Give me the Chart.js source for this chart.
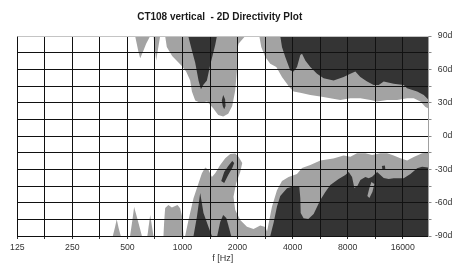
<!DOCTYPE html>
<html><head><meta charset="utf-8">
<script src="https://cdn.jsdelivr.net/npm/chart.js@4/dist/chart.umd.min.js"></script>
<style>html,body{margin:0;padding:0;background:#fff;}canvas{display:block;}</style>
</head><body>
<canvas id="c" width="452" height="266"></canvas>
<script>
// ---- texts and axis ticks ----
const chartTitle = 'CT108 vertical  - 2D Directivity Plot';
const xTitle = 'f [Hz]';
const gridFreqs = [125, 176.8, 250, 353.6, 500, 707.1, 1000, 1414.2, 2000, 2828.4, 4000, 5656.9, 8000, 11313.7, 16000];
const freqLabels = [125, 250, 500, 1000, 2000, 4000, 8000, 16000];
const angleTicks = [90, 75, 60, 45, 30, 15, 0, -15, -30, -45, -60, -75, -90];
const angleLabels = [90, 60, 30, 0, -30, -60, -90];

// ---- contour regions, [frequency Hz, angle deg] ----
// light level (upper half)
const topSpikeA = [[551,90],[574,76],[587,70],[612,77],[633,83],[666,90]];
const topSpikeB = [[694,90],[718,68],[755,90]];
const topLightMid = [[804,90],[821,80],[878,72],[992,63],[1047,58],[1102,50],[1126,40],[1174,32],[1250,30],[1365,31],[1472,25],[1568,19],[1670,17.5],[1779,20],[1871,27],[1943,41],[1985,59],[1985,75],[2025,83],[2204,90]];
const topLightHigh = [[2630,90],[2697,80],[2836,71],[3020,65],[3258,62],[3500,53],[3837,44],[4050,40],[4408,39],[5000,37],[5673,35.5],[6432,34],[7296,32.5],[8276,34],[9388,34],[10652,32.5],[11592,31],[13144,32.5],[14912,32.5],[16912,34],[18379,34],[20000,31],[21304,26],[22000,25],[22000,90]];
// dark level (upper half)
const topDarkMid = [[1075,90],[1130,76],[1174,66],[1224,50],[1262,42],[1298,46],[1360,50],[1418,64],[1510,82],[1543,90]];
const topDarkBlob = [[1640,32],[1670,37],[1710,33],[1720,27],[1690,24],[1660,27]];
const topDarkHigh = [[3425,90],[3500,80],[3648,71],[3885,59],[4050,58],[4228,62],[4408,73],[4504,74],[4694,68],[5000,62],[5441,56],[5913,52],[6705,50],[7605,53],[8276,56],[8816,58],[9388,53],[10218,49],[11104,46],[11826,46],[12597,49],[14283,47],[16201,46],[16912,43],[19185,40],[20853,37],[22000,33],[22000,90]];
// light level (lower half)
const bottomSpike1 = [[416,-90],[428,-82],[437,-75],[448,-83],[460,-90]];
const bottomSpike2 = [[517,-90],[532,-76],[544,-64],[563,-72.6],[587,-84],[600,-90]];
const bottomSpike3 = [[643,-90],[666,-71],[694,-90]];
const bottomLightMesa = [[787,-90],[794,-77.4],[804,-64.8],[838,-62],[875,-64.4],[912,-63],[939,-62],[971,-65],[996,-72.6],[1013,-90]];
const bottomLightMain = [[1034,-90],[1079,-75.6],[1149,-56],[1224,-42.6],[1277,-33.6],[1332,-28.4],[1388,-30.6],[1449,-36.9],[1510,-33.6],[1608,-26],[1713,-20],[1824,-16.2],[1943,-15.8],[2025,-18.6],[2122,-24.3],[2069,-32.4],[1967,-42.3],[1901,-54.6],[1943,-66.6],[2069,-75.6],[2252,-81.6],[2446,-83.7],[2663,-80.6],[2836,-82],[2900,-86],[3085,-63.6],[3286,-48.8],[3500,-40.5],[3802,-36.9],[4228,-34.2],[4504,-28.8],[5000,-26],[5673,-22],[6680,-20.3],[7605,-17.6],[8276,-18.6],[9005,-15.6],[10000,-15.6],[10883,-17.1],[12081,-15.6],[13144,-15.6],[14283,-17.6],[15543,-20],[16912,-22],[18379,-19],[20436,-15.6],[22000,-15],[22000,-90]];
// dark level (lower half)
const bottomDarkA = [[1149,-90],[1199,-73],[1250,-51.3],[1303,-69.3],[1388,-82],[1449,-90]];
const bottomDarkB = [[1549,-90],[1608,-77.4],[1670,-71],[1736,-73.8],[1779,-80],[1847,-90]];
const bottomDarkStreak = [[1629,-40.5],[1691,-32.4],[1779,-27],[1871,-22.5],[1918,-24.3],[1871,-28.8],[1779,-35.1],[1691,-42.3]];
const bottomDarkHigh = [[3020,-90],[3150,-78],[3286,-63.5],[3425,-54],[3728,-47],[3970,-45.6],[4353,-45.6],[4408,-55.8],[4430,-69.3],[4595,-74],[4876,-74.7],[5213,-70.2],[5673,-57.6],[6040,-50.4],[6432,-44.1],[7141,-38.7],[7771,-35.1],[8101,-32.4],[8457,-36.9],[8706,-46.8],[9040,-45],[9388,-39.6],[10000,-36.9],[10425,-38.1],[10883,-36.6],[11592,-32.4],[12081,-35.1],[12597,-37.8],[13411,-38.7],[14283,-38.1],[16201,-38.1],[17632,-34.2],[19185,-29.1],[20436,-27.6],[22000,-28.4],[22000,-90]];
const bottomDarkSpeck = [[12313,-27],[12785,-26.6],[12850,-29.7],[12400,-30.6]];
// light sliver inside the dark area
const bottomLightSliver = [[10787,-41.4],[11200,-43.2],[10920,-50.4],[10519,-55.8],[10254,-54],[10519,-46.8]];

const LIGHT = '#a3a3a3';
const DARK = '#343434';
const FONT = '"Liberation Sans", Arial, sans-serif';

const region = (pairs, color, order) => ({
  data: pairs.map(([x, y]) => ({x, y})),
  showLine: true, fill: 'shape', backgroundColor: color,
  borderColor: 'rgba(0,0,0,0)', borderWidth: 0,
  pointRadius: 0, pointHoverRadius: 0, tension: 0, order
});

const datasets = [
  ...[topSpikeA, topSpikeB, topLightMid, topLightHigh, bottomSpike1, bottomSpike2, bottomSpike3, bottomLightMesa, bottomLightMain].map(r => region(r, LIGHT, 3)),
  ...[topDarkMid, topDarkBlob, topDarkHigh, bottomDarkA, bottomDarkB, bottomDarkStreak, bottomDarkHigh, bottomDarkSpeck].map(r => region(r, DARK, 2)),
  region(bottomLightSliver, LIGHT, 1)
];

const titlePlugin = {
  id: 'plotTitle',
  afterDraw(chart) {
    const ctx = chart.ctx;
    ctx.save();
    ctx.font = 'bold 10px ' + FONT;
    ctx.fillStyle = '#1a1a1a';
    ctx.textAlign = 'center';
    ctx.textBaseline = 'middle';
    ctx.fillText(chartTitle, 219.7, 17);
    ctx.restore();
  }
};

new Chart(document.getElementById('c'), {
  type: 'scatter',
  data: { datasets },
  plugins: [titlePlugin],
  options: {
    responsive: false, animation: false, devicePixelRatio: 1,
    layout: { padding: { top: 36, left: 17.3, right: -10, bottom: 0 } },
    plugins: { legend: { display: false }, tooltip: { enabled: false }, title: { display: false } },
    scales: {
      x: {
        type: 'logarithmic', position: 'bottom', min: 125, max: 22000,
        afterBuildTicks: s => { s.ticks = gridFreqs.map(v => ({ value: v })); },
        afterFit: s => { s.height = 30; },
        grid: { z: 1, color: '#111', tickColor: '#333', tickLength: 3, lineWidth: 1 },
        border: { z: 1, color: '#111', width: 1 },
        ticks: {
          autoSkip: false, maxRotation: 0, minRotation: 0, padding: 3.5, color: '#333',
          font: { family: FONT, size: 8.7 },
          callback: v => freqLabels.includes(v) ? String(v) : ''
        },
        title: { display: true, text: xTitle, color: '#333', font: { family: FONT, size: 9 }, padding: { top: 0, bottom: 2 } }
      },
      y: {
        type: 'linear', position: 'right', min: -90, max: 90,
        afterBuildTicks: s => { s.ticks = angleTicks.map(v => ({ value: v })); },
        afterFit: s => { s.width = 34; },
        grid: {
          z: 1, lineWidth: 1, tickLength: 3.5, tickColor: '#8a8a8a',
          color: c => (c.tick && c.tick.value === 90) ? '#c4c4c4' : '#111'
        },
        border: { z: 1, color: '#a0a0a0', width: 1 },
        ticks: {
          crossAlign: 'far', padding: 3.4, color: '#333',
          font: { family: FONT, size: 8.7 },
          callback: v => angleLabels.includes(v) ? v + 'deg' : ''
        }
      }
    }
  }
});
</script>
</body></html>
